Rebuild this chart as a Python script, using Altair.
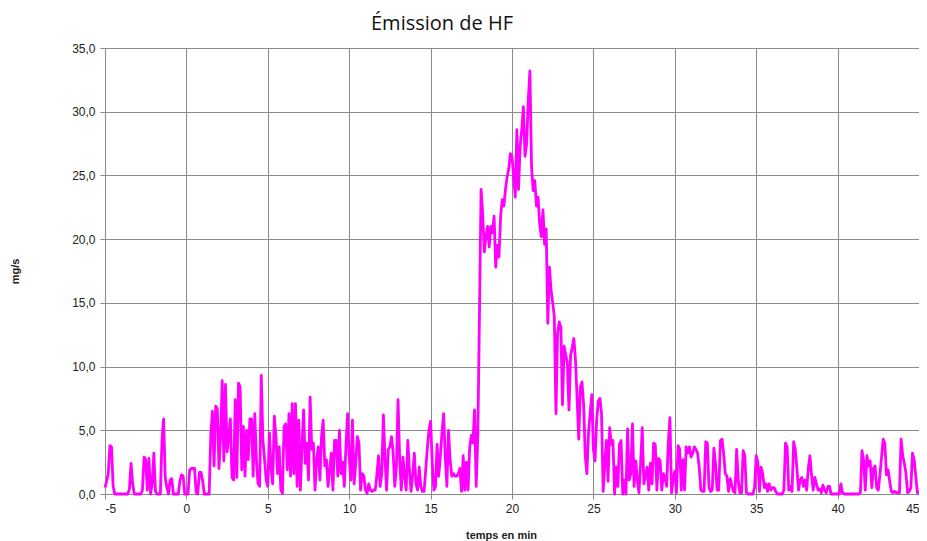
import altair as alt
import pandas as pd

# Sampled every 0.1 min, each segment starts at the given time (min)
seg_starts = [-5.0, 0.0, 3.0, 11.6, 18.0, 23.0, 30.3, 38.2]

seg_a = [0.5, 1.0, 1.6, 3.8, 3.7, 0.6, 0, 0, 0, 0, 0, 0, 0, 0, 0, 0.4, 2.4, 0.8, 0, 0,
         0, 0, 0, 0.3, 2.9, 2.7, 0.3, 2.8, 0, 0.8, 3.2, 0.2, 0, 0, 0, 4.2, 5.9, 1.3, 0.5, 0,
         1.1, 1.2, 0, 0, 0, 0, 1.0, 1.5, 1.4, 0]
seg_b = [0, 0, 1.9, 2.0, 2.0, 2.0, 0.1, 0, 1.7, 1.7, 1.0, 0, 0, 0, 0, 4.7, 6.5, 2.2, 6.9, 6.7,
         2.0, 4.5, 8.9, 2.6, 8.6, 3.3, 4.5, 5.9, 1.3, 1.1]
seg_c = [7.4, 1.3, 8.7, 8.4, 1.9, 5.3, 1.4, 5.0, 2.7, 5.9, 5.9, 1.4, 6.3, 2.7, 0.8, 0.6, 9.3, 4.2, 2.7, 1.1,
         0.6, 4.8, 2.0, 0.8, 6.1, 4.5, 1.6, 3.7, 0.3, 0.05, 5.3, 5.5, 1.9, 6.3, 1.4, 7.1, 1.6, 7.1, 0.6, 5.8,
         0.3, 3.7, 6.6, 2.4, 4.0, 1.1, 7.6, 3.5, 4.0, 0.3, 2.7, 3.7, 1.1, 4.5, 5.8, 2.2, 2.7, 0.6, 1.9, 3.2,
         0.3, 4.2, 4.2, 1.4, 5.0, 1.6, 2.5, 0.6, 3.7, 6.3, 2.9, 1.1, 5.8, 0.8, 2.4, 4.5, 4.0, 0.3, 1.6, 1.4,
         0.3, 0.05, 0.8, 0.3, 0.2, 0.3]
seg_d = [0.3, 1.5, 3.0, 0.6, 1.6, 6.2, 2.7, 0.3, 3.5, 3.7, 4.5, 3.2, 0.6, 2.1, 7.4, 2.7, 0.3, 2.9, 1.4, 0.3,
         4.2, 1.9, 0.2, 1.5, 3.2, 0.8, 0.3, 2.1, 0.6, 0.2, 0.2, 1.9, 3.6, 5.0, 5.7, 2.5, 0.3, 0.6, 3.9, 1.4,
         3.0, 4.8, 6.3, 2.9, 0.6, 5.0, 2.7, 1.4, 1.6, 1.4, 1.4, 1.6, 2.0, 0.2, 3.0, 0.3, 2.5, 0.3, 3.6, 4.6,
         4.0, 6.6, 0.6, 4.5]
seg_e = [14.0, 23.9, 22.0, 19.0, 20.2, 21.0, 19.4, 21.0, 20.5, 21.8, 17.8, 19.5, 18.6, 21.8, 23.1, 22.6, 23.9, 24.9, 25.5, 26.7,
         26.5, 24.9, 23.3, 28.6, 23.9, 27.3, 28.6, 30.4, 26.5, 27.5, 30.9, 33.2, 25.7, 23.8, 24.6, 22.6, 23.3, 21.2, 20.2, 22.3,
         19.6, 20.8, 13.4, 17.8, 16.0, 15.0, 13.9, 6.3, 12.6, 13.5]
seg_f = [13.1, 7.0, 11.6, 10.9, 10.3, 6.6, 10.9, 11.5, 12.2, 10.5, 7.5, 4.3, 8.4, 8.8, 7.0, 3.0, 1.6, 4.8, 6.3, 7.8,
         3.5, 2.6, 5.8, 7.3, 7.5, 6.3, 0.2, 2.4, 4.2, 1.0, 5.2, 3.9, 4.2, 0.0, 2.1, 0.6, 3.9, 4.2, 0.0, 1.1,
         0.0, 5.1, 1.1, 1.6, 5.5, 0.6, 2.6, 1.1, 0.1, 2.4, 5.2, 0.8, 1.4, 2.1, 0.3, 2.4, 0.8, 4.0, 3.9, 0.3,
         2.8, 2.6, 0.3, 1.6, 1.3, 0.6, 4.0, 6.0, 0.1, 1.2, 1.8, 0.1, 3.8]
seg_g = [3.5, 0.3, 2.7, 0.3, 3.7, 3.2, 3.7, 2.9, 3.2, 3.7, 3.5, 3.2, 2.1, 0.3, 0.2, 0.2, 4.1, 4.0, 0.5, 0.2,
         0.3, 3.6, 2.4, 0.3, 0.3, 4.2, 4.3, 3.2, 1.6, 1.4, 0.2, 1.2, 0.7, 0.2, 0.1, 3.5, 1.0, 0.1, 0.1, 3.4,
         3.0, 0.1, 0, 0, 0, 0, 0.5, 3.0, 2.5, 0.2, 2.1, 1.6, 0.5, 0.8, 0.2, 0.8, 0.3, 0.5, 0.5, 0.2,
         0, 0, 0, 0, 0.3, 4.0, 3.7, 0.3, 0.6, 0.2, 4.1, 3.5, 2.0, 0.3, 1.1, 1.3, 0.6, 1.1, 0.3]
seg_h = [2.0, 3.0, 1.5, 0.3, 1.3, 0.8, 0.3, 0.4, 0.1, 0.7, 0.3, 0.1, 0.6, 0.6, 0, 0, 0, 0, 0, 0,
         0.8, 0.1, 0, 0, 0, 0, 0, 0, 0, 0, 0, 0, 0.1, 3.4, 2.6, 0.3, 3.0, 2.2, 2.6, 0.5,
         2.0, 2.2, 0.5, 0.3, 1.5, 2.9, 4.3, 4.0, 1.5, 1.9, 1.0, 0.2, 0.1, 0.2, 0.1, 0.1, 0.1, 4.3, 3.0, 2.4,
         1.6, 0.1, 0.2, 0.5, 3.2, 2.7, 1.4, 0.1, 0.1]

segments = [seg_a, seg_b, seg_c, seg_d, seg_e, seg_f, seg_g, seg_h]

x_ticks = [-5, 0, 5, 10, 15, 20, 25, 30, 35, 40, 45]
y_ticks = [0, 5, 10, 15, 20, 25, 30, 35]

rows = []
for start, vals in zip(seg_starts, segments):
    for i, v in enumerate(vals):
        rows.append({"t": round(start + 0.1 * i, 2), "v": v})
df = pd.DataFrame(rows)

grid_color = "#8a8a8a"

chart = alt.Chart(df).mark_line(color="#ff00ff", strokeWidth=2.8, strokeJoin="round").encode(
    x=alt.X("t:Q", scale=alt.Scale(domain=[-5, 45], nice=False, zero=False),
            axis=alt.Axis(values=x_ticks, title="temps en min", labelExpr="'' + datum.value",
                          grid=True, gridColor=grid_color, gridWidth=1,
                          domainColor=grid_color, tickColor=grid_color, tickSize=5,
                          labelFont="Liberation Sans", labelFontSize=12, labelColor="#222222",
                          labelPadding=4,
                          titleFont="Liberation Sans", titleFontSize=11, titleFontWeight="bold",
                          titleColor="#222222", titleX=396, titleY=41, titleBaseline="middle",
                          titleAlign="center")),
    y=alt.Y("v:Q", scale=alt.Scale(domain=[0, 35], nice=False),
            axis=alt.Axis(values=y_ticks, title="mg/s",
                          labelExpr="replace(format(datum.value, '.1f'), '.', ',')",
                          grid=True, gridColor=grid_color, gridWidth=1,
                          domainColor=grid_color, tickColor=grid_color, tickSize=5,
                          labelFont="Liberation Sans", labelFontSize=12, labelColor="#222222",
                          labelPadding=5,
                          titleFont="Liberation Sans", titleFontSize=11, titleFontWeight="bold",
                          titleColor="#222222", titleX=-90, titleY=223, titleAngle=-90,
                          titleBaseline="middle", titleAlign="center")),
).properties(
    width=814,
    height=446,
    autosize=alt.AutoSizeParams(type="none"),
    padding={"left": 97, "top": 40, "right": 0, "bottom": 50},
    title=alt.TitleParams("Émission de HF", font="Open Sans", fontSize=20, fontWeight="normal",
                          color="#111111", anchor="middle", dx=-70, dy=20, offset=12,
                          baseline="alphabetic", frame="group"),
).configure_view(stroke=None).configure(background="white")

chart.save("out.html", embed_options={"renderer": "svg", "actions": False})
